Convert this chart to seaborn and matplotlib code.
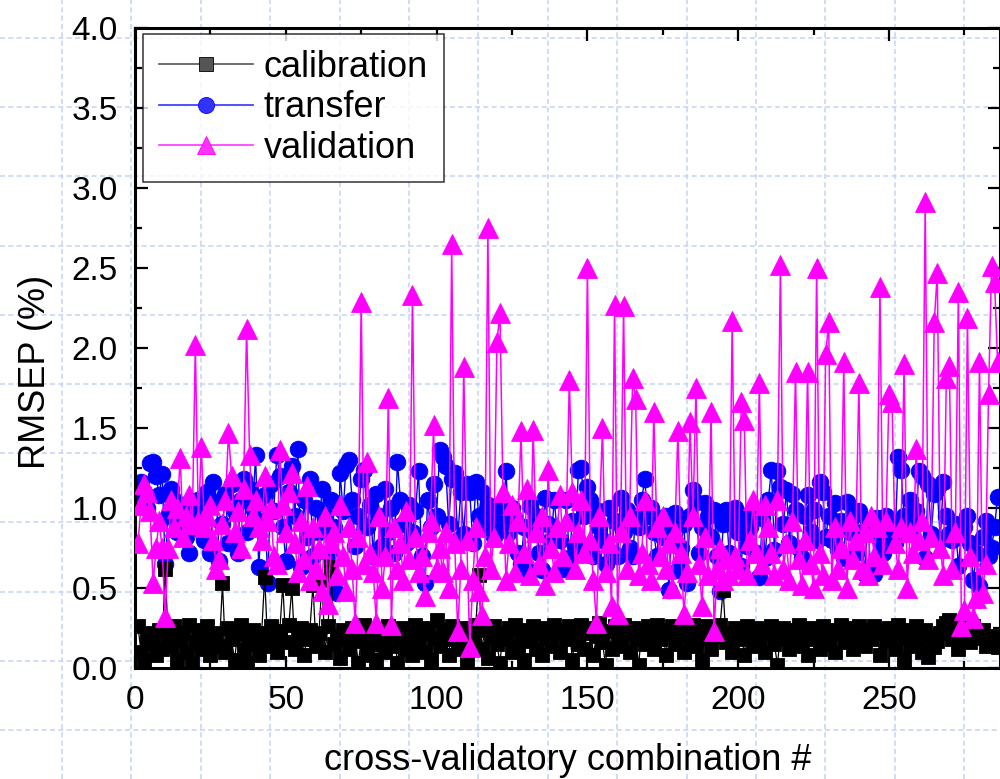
import numpy as np
import pandas as pd
import matplotlib
matplotlib.use("Agg")
import matplotlib.pyplot as plt
import seaborn as sns
from matplotlib.lines import Line2D
from matplotlib.ticker import MultipleLocator, FormatStrFormatter

# cross-validatory combination index
combination = np.arange(1, 287)

calibration = [
    0.26, 0.10, 0.05, 0.18, 0.22, 0.15, 0.08, 0.24, 0.12, 0.62,
    0.20, 0.14, 0.26, 0.05, 0.18, 0.22, 0.10, 0.27, 0.03, 0.16,
    0.24, 0.12, 0.20, 0.26, 0.08, 0.17, 0.22, 0.14, 0.53, 0.10,
    0.25, 0.18, 0.05, 0.21, 0.27, 0.12, 0.03, 0.19, 0.24, 0.15,
    0.08, 0.22, 0.57, 0.14, 0.26, 0.18, 0.10, 0.23, 0.52, 0.16,
    0.27, 0.50, 0.12, 0.20, 0.25, 0.08, 0.18, 0.24, 0.52, 0.14,
    0.22, 0.55, 0.10, 0.26, 0.63, 0.15, 0.20, 0.06, 0.24, 0.18,
    0.12, 0.25, 0.20, 0.03, 0.17, 0.27, 0.08, 0.22, 0.15, 0.05,
    0.24, 0.19, 0.10, 0.26, 0.14, 0.21, 0.03, 0.18, 0.25, 0.12,
    0.20, 0.08, 0.27, 0.16, 0.22, 0.10, 0.25, 0.05, 0.19, 0.30,
    0.14, 0.24, 0.18, 0.08, 0.26, 0.21, 0.12, 0.25, 0.16, 0.03,
    0.22, 0.18, 0.27, 0.58, 0.12, 0.24, 0.06, 0.20, 0.26, 0.15,
    0.03, 0.22, 0.18, 0.25, 0.10, 0.27, 0.14, 0.20, 0.05, 0.24,
    0.17, 0.26, 0.12, 0.21, 0.08, 0.25, 0.19, 0.14, 0.27, 0.22,
    0.10, 0.24, 0.18, 0.26, 0.05, 0.21, 0.15, 0.27, 0.12, 0.22,
    0.25, 0.08, 0.20, 0.28, 0.16, 0.02, 0.23, 0.12, 0.26, 0.19,
    0.14, 0.27, 0.22, 0.10, 0.25, 0.18, 0.02, 0.24, 0.15, 0.26,
    0.20, 0.12, 0.27, 0.18, 0.24, 0.08, 0.22, 0.26, 0.15, 0.21,
    0.25, 0.10, 0.23, 0.18, 0.27, 0.14, 0.22, 0.05, 0.26, 0.19,
    0.12, 0.24, 0.20, 0.27, 0.49, 0.16, 0.22, 0.10, 0.25, 0.18,
    0.23, 0.08, 0.26, 0.20, 0.14, 0.25, 0.18, 0.22, 0.10, 0.24,
    0.26, 0.15, 0.02, 0.21, 0.25, 0.18, 0.12, 0.24, 0.20, 0.27,
    0.14, 0.22, 0.08, 0.25, 0.18, 0.23, 0.12, 0.26, 0.20, 0.15,
    0.24, 0.10, 0.22, 0.27, 0.16, 0.21, 0.25, 0.12, 0.19, 0.26,
    0.20, 0.14, 0.24, 0.18, 0.26, 0.22, 0.08, 0.24, 0.17, 0.25,
    0.21, 0.12, 0.27, 0.19, 0.05, 0.24, 0.14, 0.22, 0.26, 0.18,
    0.10, 0.24, 0.07, 0.20, 0.13, 0.17, 0.22, 0.26, 0.28, 0.30,
    0.18, 0.25, 0.12, 0.27, 0.20, 0.24, 0.16, 0.26, 0.22, 0.19,
    0.24, 0.14, 0.17, 0.20, 0.15, 0.13,
]

transfer = [
    1.05, 1.16, 1.10, 1.00, 1.28, 1.29, 1.20, 1.08, 1.21, 0.65,
    0.95, 1.12, 1.05, 0.85, 0.92, 1.02, 0.82, 0.72, 0.98, 0.88,
    1.05, 0.95, 0.80, 1.10, 0.72, 1.16, 1.04, 0.67, 0.90, 1.09,
    0.78, 1.15, 0.98, 0.72, 1.05, 1.18, 0.85, 1.12, 1.00, 1.33,
    0.63, 0.92, 1.08, 0.53, 1.15, 0.98, 1.33, 1.20, 0.88, 0.67,
    1.10, 1.26, 0.95, 1.37, 0.63, 1.05, 0.82, 1.18, 0.70, 1.00,
    0.85, 1.12, 0.95, 0.72, 1.05, 0.88, 0.47, 1.22, 0.98, 1.27,
    1.30, 1.05, 0.76, 0.95, 1.18, 1.24, 0.88, 1.02, 0.70, 1.09,
    0.95, 0.76, 1.12, 0.85, 1.00, 0.72, 1.29, 1.05, 0.90, 0.78,
    1.02, 0.85, 0.98, 1.23, 0.70, 0.53, 1.05, 0.88, 1.15, 0.95,
    1.36, 1.32, 1.26, 0.90, 1.18, 1.22, 0.80, 1.10, 0.84, 1.15,
    1.10, 0.78, 1.16, 0.95, 1.10, 0.88, 1.02, 0.92, 0.82, 1.00,
    0.88, 0.95, 1.23, 0.85, 1.00, 0.93, 0.72, 0.65, 0.88, 0.61,
    1.01, 0.85, 0.95, 0.72, 0.61, 1.06, 0.90, 0.80, 1.05, 0.85,
    0.80, 0.62, 1.05, 0.69, 0.92, 0.76, 1.24, 1.25, 0.95, 1.13,
    1.05, 0.70, 0.99, 0.88, 0.80, 0.65, 1.00, 0.72, 0.92, 0.70,
    1.06, 0.85, 0.99, 0.75, 0.70, 0.95, 0.88, 1.05, 1.18, 0.95,
    1.00, 0.85, 0.70, 0.92, 0.82, 0.95, 0.49, 0.86, 0.97, 0.61,
    0.75, 0.90, 0.53, 0.95, 1.11, 1.04, 0.72, 0.88, 1.03, 0.95,
    0.82, 0.99, 0.70, 0.48, 0.90, 0.99, 0.72, 0.90, 1.00, 0.85,
    0.64, 0.95, 0.76, 0.88, 0.98, 0.72, 0.57, 0.94, 0.69, 1.05,
    1.24, 0.74, 1.23, 1.13, 0.90, 1.11, 0.78, 1.09, 0.99, 0.75,
    0.69, 0.95, 1.08, 0.85, 0.99, 0.80, 1.16, 1.10, 0.82, 0.95,
    0.80, 1.03, 0.74, 0.92, 0.69, 1.04, 0.85, 0.95, 0.72, 0.98,
    0.85, 0.59, 0.92, 0.58, 0.59, 0.94, 0.80, 0.72, 0.95, 0.84,
    0.90, 0.78, 1.32, 1.24, 0.95, 0.85, 1.05, 0.88, 0.98, 1.23,
    1.20, 0.69, 1.15, 0.84, 1.09, 1.12, 0.80, 1.16, 0.95, 0.84,
    0.80, 0.90, 0.64, 0.84, 0.88, 0.95, 0.78, 0.55, 0.72, 0.51,
    0.82, 0.92, 0.70, 0.75, 0.88, 1.07,
]

validation = [
    0.78, 1.02, 1.15, 1.10, 0.98, 0.53, 0.75, 0.92, 0.75, 0.32,
    0.75, 1.05, 0.88, 1.00, 1.31, 0.82, 0.95, 1.08, 0.90, 2.02,
    0.92, 1.38, 0.88, 0.95, 1.02, 0.80, 0.62, 0.68, 0.90, 1.05,
    1.47, 1.20, 0.85, 0.98, 0.75, 1.12, 2.12, 1.33, 0.95, 1.05,
    0.88, 0.80, 1.20, 0.92, 1.00, 0.70, 0.65, 1.36, 1.02, 0.85,
    1.10, 1.22, 0.78, 0.60, 0.92, 0.68, 1.14, 0.55, 0.88, 0.62,
    0.75, 0.48, 0.95, 0.40, 0.78, 0.85, 0.58, 1.02, 0.70, 0.48,
    0.88, 0.62, 0.28, 0.82, 2.29, 0.65, 1.29, 0.72, 0.60, 0.28,
    0.95, 0.50, 0.70, 1.69, 0.27, 0.88, 0.62, 0.78, 0.55, 0.98,
    0.68, 2.33, 0.82, 0.60, 0.70, 0.45, 0.85, 0.92, 1.52, 0.62,
    0.75, 0.60, 0.85, 0.50, 2.65, 0.78, 0.23, 0.62, 1.88, 0.80,
    0.13, 0.55, 0.88, 0.48, 0.33, 0.70, 2.75, 0.62, 0.82, 2.04,
    2.22, 1.10, 0.55, 0.78, 1.02, 0.60, 0.92, 1.48, 0.72, 1.12,
    0.58, 1.49, 0.85, 0.65, 0.95, 0.52, 1.24, 0.75, 0.60, 0.88,
    1.08, 0.70, 0.92, 1.80, 1.10, 0.62, 0.85, 1.05, 0.72, 2.50,
    0.80, 0.55, 0.28, 0.95, 1.50, 0.60, 0.78, 0.39, 2.27, 0.34,
    0.85, 2.26, 0.62, 0.95, 1.81, 1.68, 0.58, 0.72, 1.05, 0.65,
    0.55, 1.60, 0.88, 0.70, 0.95, 0.62, 0.78, 0.50, 0.85, 1.48,
    0.72, 0.34, 0.60, 1.54, 0.95, 1.75, 0.65, 0.39, 0.82, 0.58,
    1.60, 0.23, 0.62, 0.75, 0.55, 0.68, 0.58, 2.17, 0.70, 0.62,
    1.66, 1.55, 0.58, 0.80, 1.05, 0.72, 1.78, 0.65, 1.02, 0.88,
    0.72, 0.58, 1.05, 2.52, 0.62, 0.78, 0.55, 0.92, 1.85, 0.68,
    0.52, 0.80, 1.85, 0.65, 0.50, 2.50, 0.72, 0.58, 1.96, 2.16,
    0.55, 0.88, 0.62, 0.75, 1.91, 0.50, 0.92, 0.68, 0.80, 1.78,
    0.62, 0.85, 0.58, 0.95, 0.70, 0.88, 2.38, 0.65, 0.92, 1.71,
    1.66, 0.78, 0.62, 0.88, 1.90, 0.50, 0.85, 0.72, 1.37, 0.80,
    0.92, 2.91, 0.68, 0.82, 2.16, 2.47, 0.75, 0.58, 1.81, 1.89,
    0.62, 0.85, 2.35, 0.26, 0.36, 2.19, 0.70, 0.31, 0.44, 1.91,
    0.47, 0.65, 1.71, 2.51, 2.41, 1.91,
]

series_names = ["calibration", "transfer", "validation"]
series_colors = ["#000000", "#0000ff", "#ff00ff"]
series_markers = ["s", "o", "^"]
series_marker_sizes = [10, 12, 14]

df = pd.DataFrame({
    "combination": np.tile(combination, 3),
    "rmsep": np.concatenate([calibration, transfer, validation]),
    "set": np.repeat(series_names, len(combination)),
})

plt.rcParams["font.family"] = ["Liberation Sans", "DejaVu Sans"]

fig = plt.figure(figsize=(10, 7.79), dpi=100)

# page grid behind everything
bg = fig.add_axes([0, 0, 1, 1], zorder=0)
bg.set_xlim(0, 1000)
bg.set_ylim(779, 0)
bg.set_xticks(np.arange(62, 1000, 69.4))
bg.set_yticks(np.arange(38, 779, 69.2))
bg.grid(True, color="#c8d6f4", linestyle=(0, (3, 2)), linewidth=1.2)
bg.tick_params(length=0, labelleft=False, labelbottom=False)
for s in bg.spines.values():
    s.set_visible(False)

ax = fig.add_axes([0.135, 0.1425, 0.865, 0.8215], zorder=1)
ax.patch.set_alpha(0)

draw_order = {"transfer": 2, "calibration": 3, "validation": 4}
line_widths = {"calibration": 0.9, "transfer": 1.0, "validation": 1.1}
for name in ["transfer", "calibration", "validation"]:
    i = series_names.index(name)
    sub = df[df["set"] == name]
    sns.lineplot(
        data=sub, x="combination", y="rmsep", ax=ax,
        color=series_colors[i], marker=series_markers[i],
        markersize=series_marker_sizes[i], markeredgewidth=0.6,
        markeredgecolor=series_colors[i],
        linewidth=line_widths[name], estimator=None, sort=False,
        zorder=draw_order[name], legend=False,
    )

ax.set_xlim(0, 286.8)
ax.set_ylim(0, 4.0)
ax.xaxis.set_major_locator(MultipleLocator(50))
ax.xaxis.set_minor_locator(MultipleLocator(25))
ax.yaxis.set_major_locator(MultipleLocator(0.5))
ax.yaxis.set_minor_locator(MultipleLocator(0.25))
ax.yaxis.set_major_formatter(FormatStrFormatter("%.1f"))
ax.tick_params(which="both", direction="in", top=True, right=True, width=1.6)
ax.tick_params(which="major", length=9, labelsize=24, pad=12.5)
ax.tick_params(which="minor", length=5)
for s in ax.spines.values():
    s.set_linewidth(2.2)

ax.set_xlabel("cross-validatory combination #", fontsize=26)
ax.set_ylabel("RMSEP (%)", fontsize=26)
ax.xaxis.set_label_coords(0.5, -0.144)
ax.xaxis.label.set_va("center")
ax.yaxis.set_label_coords(-0.1145, 0.4625)
ax.yaxis.label.set_va("center")

handles = [
    Line2D([], [], color=c, marker=m, markersize=ms, markeredgewidth=0.6,
           markeredgecolor=mc, linewidth=1.2)
    for c, mc, m, ms in zip(["#555555", "#3333ff", "#ff33ff"], series_colors,
                            series_markers, [9.5, 11.5, 13])
]
leg = ax.legend(
    handles, series_names, loc="upper left", bbox_to_anchor=(0.009, 0.991),
    borderaxespad=0, fontsize=26, frameon=True, fancybox=False,
    handlelength=2.6, handletextpad=0.3, labelspacing=0.15, borderpad=0.45,
)
leg.get_frame().set_edgecolor("black")
leg.get_frame().set_linewidth(1.1)
leg.set_zorder(10)

fig.savefig("out.png", dpi=100)
